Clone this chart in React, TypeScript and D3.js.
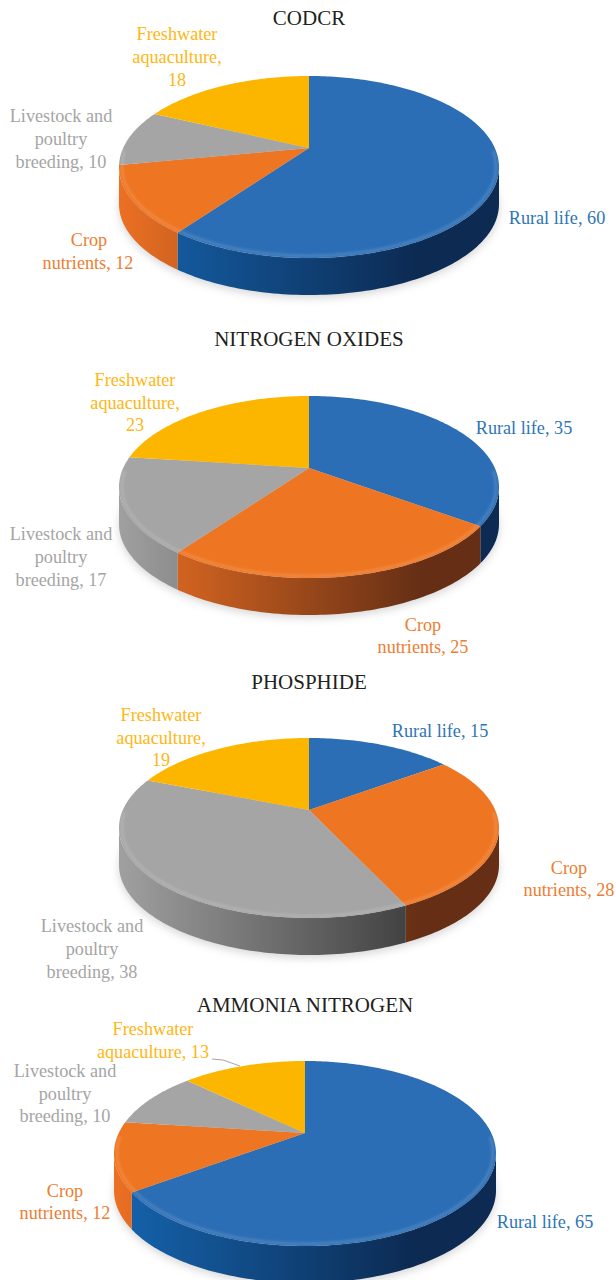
import React from "react";
import * as d3 from "d3";

const categories = ["Rural life", "Crop nutrients", "Livestock and poultry breeding", "Freshwater aquaculture"];
const titles = ["CODCR", "NITROGEN OXIDES", "PHOSPHIDE", "AMMONIA NITROGEN"];
const codcrValues = [60, 12, 10, 18];
const nitrogenOxidesValues = [35, 25, 17, 23];
const phosphideValues = [15, 28, 38, 19];
const ammoniaValues = [65, 12, 10, 13];
const seriesValues = [codcrValues, nitrogenOxidesValues, phosphideValues, ammoniaValues];

const faceColors = ["#2C6EB5", "#EE7522", "#A5A5A5", "#FDB600"];
const labelColors = ["#2E75B6", "#ED7D31", "#A5A5A5", "#FFB612"];
const wallLeft = ["#1564AE", "#EC7023", "#A0A0A0", "#E0A800"];
const wallRight = ["#0C2A52", "#662F15", "#3E3E3E", "#7F6000"];

type Lab = { x: number; y: number; t: string; c: number };
const layouts = [
  { cx: 309, cy: 148, rx: 190, up: 72, down: 110, titleY: 25 },
  { cx: 309, cy: 468, rx: 190, up: 72, down: 110, titleY: 346 },
  { cx: 309, cy: 810, rx: 190, up: 72, down: 108, titleY: 689 },
  { cx: 305, cy: 1133, rx: 191, up: 72, down: 113, titleY: 1012 },
];
const depth = 37;

const labels: Lab[][] = [
  [
    { x: 177, y: 34, t: "Freshwater", c: 3 }, { x: 177, y: 57, t: "aquaculture,", c: 3 }, { x: 177, y: 80, t: "18", c: 3 },
    { x: 61, y: 116, t: "Livestock and", c: 2 }, { x: 61, y: 139, t: "poultry", c: 2 }, { x: 61, y: 162, t: "breeding, 10", c: 2 },
    { x: 89, y: 240, t: "Crop", c: 1 }, { x: 88, y: 263, t: "nutrients, 12", c: 1 },
    { x: 557, y: 218, t: "Rural life, 60", c: 0 },
  ],
  [
    { x: 135, y: 380, t: "Freshwater", c: 3 }, { x: 135, y: 403, t: "aquaculture,", c: 3 }, { x: 135, y: 425, t: "23", c: 3 },
    { x: 61, y: 534, t: "Livestock and", c: 2 }, { x: 61, y: 557, t: "poultry", c: 2 }, { x: 61, y: 580, t: "breeding, 17", c: 2 },
    { x: 423, y: 625, t: "Crop", c: 1 }, { x: 423, y: 647, t: "nutrients, 25", c: 1 },
    { x: 524, y: 428, t: "Rural life, 35", c: 0 },
  ],
  [
    { x: 161, y: 715, t: "Freshwater", c: 3 }, { x: 161, y: 738, t: "aquaculture,", c: 3 }, { x: 161, y: 760, t: "19", c: 3 },
    { x: 92, y: 926, t: "Livestock and", c: 2 }, { x: 92, y: 949, t: "poultry", c: 2 }, { x: 92, y: 972, t: "breeding, 38", c: 2 },
    { x: 569, y: 868, t: "Crop", c: 1 }, { x: 569, y: 890, t: "nutrients, 28", c: 1 },
    { x: 440, y: 731, t: "Rural life, 15", c: 0 },
  ],
  [
    { x: 153, y: 1029, t: "Freshwater", c: 3 }, { x: 153, y: 1052, t: "aquaculture, 13", c: 3 },
    { x: 65, y: 1071, t: "Livestock and", c: 2 }, { x: 65, y: 1094, t: "poultry", c: 2 }, { x: 65, y: 1116, t: "breeding, 10", c: 2 },
    { x: 65, y: 1191, t: "Crop", c: 1 }, { x: 65, y: 1213, t: "nutrients, 12", c: 1 },
    { x: 545, y: 1222, t: "Rural life, 65", c: 0 },
  ],
];

const serif = "'Liberation Serif', serif";
const lineGen = d3.line<[number, number]>().x((d) => d[0]).y((d) => d[1]);

function projector(l: (typeof layouts)[number]) {
  const ratio = l.down / l.up;
  const k = (ratio - 1) / (ratio + 1);
  const S = l.down * (1 - k);
  const R = l.rx * Math.sqrt(1 - k * k);
  const project = (a: number, r = 1): [number, number] => {
    const u = r * Math.sin(a);
    const w = -r * Math.cos(a);
    const d = 1 - k * w;
    return [l.cx + (R * u) / d, l.cy + (S * w) / d];
  };
  return { k, project };
}

function samples(a0: number, a1: number) {
  const n = Math.max(2, Math.ceil(Math.abs(a1 - a0) / 0.02));
  return d3.range(n + 1).map((i) => a0 + ((a1 - a0) * i) / n);
}

function Pie3D({ index }: { index: number }) {
  const l = layouts[index];
  const { k, project } = projector(l);
  const arcs = d3.pie<number>().sort(null)(seriesValues[index]);
  const aR = Math.acos(-k);
  const aL = 2 * Math.PI - aR;
  const gid = (c: number) => `wall-${index}-${c}`;

  const shadowPts = samples(0, 2 * Math.PI).map((a) => {
    const p = project(a);
    return [p[0], p[1] + depth + 3] as [number, number];
  });

  return (
    <g>
      <defs>
        {categories.map((_, c) => (
          <linearGradient key={c} id={gid(c)} gradientUnits="userSpaceOnUse" x1={l.cx - l.rx} x2={l.cx + 110} y1={0} y2={0}>
            <stop offset="0" stopColor={wallLeft[c]} />
            <stop offset="1" stopColor={wallRight[c]} />
          </linearGradient>
        ))}
      </defs>
      <path d={(lineGen(shadowPts) as string) + "Z"} fill="#9a9a9a" opacity={0.4} filter="url(#soft4)" />
      {arcs.map((s, c) => {
        const a0 = Math.max(s.startAngle, aR);
        const a1 = Math.min(s.endAngle, aL);
        if (a1 <= a0) return null;
        const top = samples(a0, a1).map((a) => project(a));
        const bottom = top.map((p) => [p[0], p[1] + depth] as [number, number]).reverse();
        return <path key={c} d={(lineGen([...top, ...bottom]) as string) + "Z"} fill={`url(#${gid(c)})`} />;
      })}
      {arcs.map((s, c) => {
        const pts: [number, number][] = [[l.cx, l.cy], ...samples(s.startAngle, s.endAngle).map((a) => project(a))];
        return <path key={c} d={(lineGen(pts) as string) + "Z"} fill={faceColors[c]} />;
      })}
      {arcs.map((s, c) => {
        const a0 = Math.max(s.startAngle, aR * 0.9);
        const a1 = Math.min(s.endAngle, 2 * Math.PI - aR * 0.9);
        if (a1 <= a0) return null;
        const rim = samples(a0, a1).map((a) => project(a, 0.985));
        return (
          <path key={c} d={lineGen(rim) as string} fill="none" stroke="#fff" strokeOpacity={0.13} strokeWidth={3} filter="url(#soft1)" />
        );
      })}
      <text x={l.cx} y={l.titleY} textAnchor="middle" fontFamily={serif} fontSize={21} fill="#231F20">
        {titles[index]}
      </text>
      {labels[index].map((t) => (
        <text key={t.t + t.y} x={t.x} y={t.y + 5.5} textAnchor="middle" fontFamily={serif} fontSize={18.2} fill={labelColors[t.c]}>
          {t.t}
        </text>
      ))}
    </g>
  );
}

export default function App() {
  const leader: [number, number][] = [[212, 1059], [223, 1060], [240, 1066]];
  return (
    <svg width={615} height={1280} viewBox="0 0 615 1280" style={{ position: "absolute", left: 0, top: 0, background: "#fff" }}>
      <defs>
        <filter id="soft4" x="-10%" y="-10%" width="120%" height="120%">
          <feGaussianBlur stdDeviation="4" />
        </filter>
        <filter id="soft1" x="-10%" y="-10%" width="120%" height="120%">
          <feGaussianBlur stdDeviation="1.2" />
        </filter>
      </defs>
      {titles.map((_, i) => (
        <Pie3D key={i} index={i} />
      ))}
      <path d={lineGen(leader) as string} fill="none" stroke="#A5A5A5" strokeWidth={1} />
    </svg>
  );
}
